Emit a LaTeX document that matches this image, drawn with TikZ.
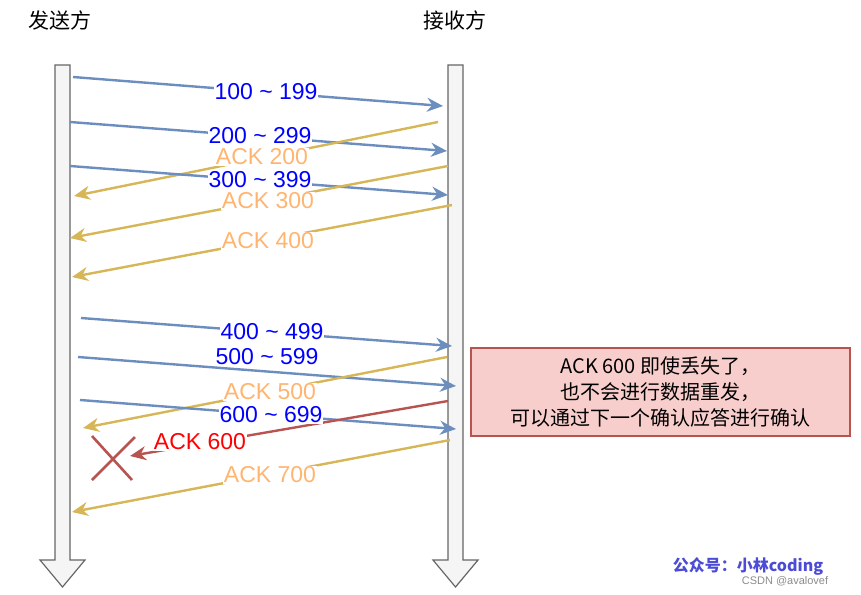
\documentclass[tikz,border=0pt]{standalone}
\usepackage{fontspec}
\setmainfont{Liberation Sans}
\newfontfamily\cjk{Noto Sans CJK SC}
\usetikzlibrary{arrows.meta}
\definecolor{seqb}{HTML}{6C8EBF}
\definecolor{acky}{HTML}{D6B656}
\definecolor{ackt}{HTML}{FFB570}
\definecolor{lost}{HTML}{B85450}
\definecolor{notefill}{HTML}{F8CECC}
\definecolor{wmc}{HTML}{4B4BD6}
\begin{document}
\begin{tikzpicture}[x=1pt,y=-1pt,
  msg/.style={draw=seqb,line width=2.4pt,-{Stealth[length=16pt,width=14pt]}},
  ack/.style={draw=acky,line width=2.4pt,-{Stealth[length=16pt,width=14pt]}},
  lbl/.style={fill=white,inner sep=1pt,font=\fontsize{23}{24}\selectfont},
  life/.style={fill=black!4,draw=black!60,line width=1.2pt}]
\useasboundingbox (0,0) rectangle (861,594);
\node[font=\cjk\fontsize{21}{24}\selectfont] (s) at (60,20) {发送方};
\node[font=\cjk\fontsize{21}{24}\selectfont] (r) at (455,20) {接收方};
\draw[life] (55,65) -- (70,65) -- (70,560) -- (85,560) -- (62.5,587) -- (40,560) -- (55,560) -- cycle;
\draw[life] (448,65) -- (463,65) -- (463,560) -- (478,560) -- (455.5,587) -- (433,560) -- (448,560) -- cycle;
\coordinate (a1) at (73,77); \coordinate (b1) at (443,106);
\coordinate (a2) at (70,122); \coordinate (b2) at (447,151);
\coordinate (c2) at (438,122); \coordinate (d2) at (74,196);
\coordinate (a3) at (70,166); \coordinate (b3) at (448,195);
\coordinate (c3) at (448,166); \coordinate (d3) at (70,238);
\coordinate (c4) at (452,205); \coordinate (d4) at (72,277);
\coordinate (a4) at (81,318); \coordinate (b4) at (452,346);
\coordinate (a5) at (78,357); \coordinate (b5) at (456,386);
\coordinate (c5) at (447,357); \coordinate (d5) at (83,428);
\coordinate (a6) at (80,400); \coordinate (b6) at (456,429);
\coordinate (c6) at (448,401); \coordinate (d6) at (130,456);
\coordinate (c7) at (450,440); \coordinate (d7) at (72,512);
\draw[msg] (a1) -- (b1);
\draw[msg] (a2) -- (b2);
\draw[ack] (c2) -- (d2);
\draw[msg] (a3) -- (b3);
\draw[ack] (c3) -- (d3);
\draw[ack] (c4) -- (d4);
\draw[msg] (a4) -- (b4);
\draw[msg] (a5) -- (b5);
\draw[ack] (c5) -- (d5);
\draw[msg] (a6) -- (b6);
\draw[draw=lost,line width=2.4pt,-{Stealth[length=16pt,width=14pt]}] (c6) -- (d6);
\draw[ack] (c7) -- (d7);
\node[lbl,text=blue] (l1) at (266,92) {100 \textasciitilde\ 199};
\node[lbl,text=blue] (l2) at (260,136) {200 \textasciitilde\ 299};
\node[lbl,text=ackt] (l3) at (262,157) {ACK 200};
\node[lbl,text=blue] (l4) at (260,180) {300 \textasciitilde\ 399};
\node[lbl,text=ackt] (l5) at (268,201) {ACK 300};
\node[lbl,text=ackt] (l6) at (268,241) {ACK 400};
\node[lbl,text=blue] (l7) at (272,332) {400 \textasciitilde\ 499};
\node[lbl,text=blue] (l8) at (267,357) {500 \textasciitilde\ 599};
\node[lbl,text=ackt] (l9) at (270,392) {ACK 500};
\node[lbl,text=blue] (l10) at (271,415) {600 \textasciitilde\ 699};
\node[lbl,text=red] (l11) at (200,442) {ACK 600};
\node[lbl,text=ackt] (l12) at (270,475) {ACK 700};
\draw[draw=lost,line width=2.6pt] (92,436) -- (132,480) (135,437) -- (92,480);
\node[draw=lost,fill=notefill,line width=1.2pt,minimum width=379pt,minimum height=88pt,align=center,font=\cjk\fontsize{20}{26}\selectfont] (note) at (660.5,392) {ACK 600 即使丢失了，\\也不会进行数据重发，\\可以通过下一个确认应答进行确认};
\node[font=\cjk\bfseries\fontsize{16}{18}\selectfont,text=wmc] (wm) at (748,566) {公众号：小林coding};
\node[font=\fontsize{11}{12}\selectfont,text=black!45] (csdn) at (785,581) {CSDN @avalovef};
\end{tikzpicture}
\end{document}
